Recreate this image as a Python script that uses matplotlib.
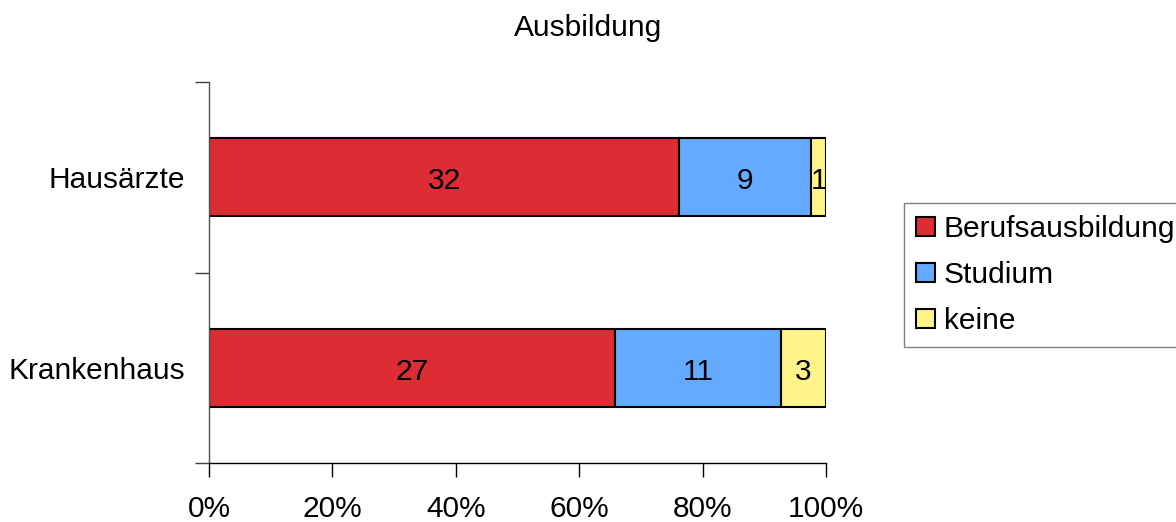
import numpy as np
import matplotlib
matplotlib.use('Agg')
import matplotlib.pyplot as plt

plt.rcParams['font.family'] = ['Liberation Sans', 'DejaVu Sans']

# data
groups = ['Krankenhaus', 'Hausärzte']
series = ['Berufsausbildung', 'Studium', 'keine']
counts = {
    'Berufsausbildung': [27, 32],
    'Studium': [11, 9],
    'keine': [3, 1],
}
colors = ['#DC2D35', '#64AAFF', '#FFF48A']
xticks = [0, 20, 40, 60, 80, 100]
title = 'Ausbildung'

FS = 21.5

fig = plt.figure(figsize=(11.76, 5.22), dpi=100)
ax = fig.add_axes([209/1176, 59/522, 617/1176, 381/522])

totals = np.sum([counts[s] for s in series], axis=0)
ypos = np.arange(len(groups))
left = np.zeros(len(groups))
for s, c in zip(series, colors):
    vals = np.array(counts[s], dtype=float)
    pct = vals / totals * 100
    bars = ax.barh(ypos, pct, left=left, height=0.41, color=c,
                   edgecolor='black', linewidth=1.5, label=s)
    for b, v in zip(bars, counts[s]):
        ax.text(b.get_x() + b.get_width()/2, b.get_y() + b.get_height()/2 - 0.02,
                str(v), ha='center', va='center', fontsize=FS)
    left += pct

ax.set_xlim(0, 100)
ax.set_ylim(-0.5, len(groups) - 0.5)
ax.set_xticks(xticks)
ax.set_xticklabels(['%d%%' % t for t in xticks], fontsize=FS)
ax.set_yticks(ypos)
ax.set_yticklabels(groups, fontsize=FS)
ax.set_yticks([-0.5, 0.5, 1.5], minor=True)
ax.tick_params(axis='y', which='major', length=0, pad=17)
ax.tick_params(axis='y', which='minor', length=10, width=1, color='#404040')
ax.tick_params(axis='x', which='major', length=10, width=1, pad=13, direction='out')

for sp in ['top', 'right']:
    ax.spines[sp].set_visible(False)
ax.spines['left'].set_color('#505050')
ax.spines['left'].set_linewidth(1)
ax.spines['bottom'].set_linewidth(1)

fig.text(0.5, 1 - 28/522, title, ha='center', va='center', fontsize=FS)

leg = ax.legend(loc='upper left', bbox_to_anchor=(904/1176, 1 - 203/522),
                bbox_transform=fig.transFigure, borderaxespad=0, fontsize=FS,
                frameon=True, fancybox=False, handlelength=0.63, handleheight=0.63,
                handletextpad=0.3, labelspacing=0.6, borderpad=0.4)
leg.get_frame().set_edgecolor('#606060')
leg.get_frame().set_linewidth(1)
for h in leg.legend_handles:
    h.set_linewidth(1.5)

fig.savefig('out.png', dpi=100)
